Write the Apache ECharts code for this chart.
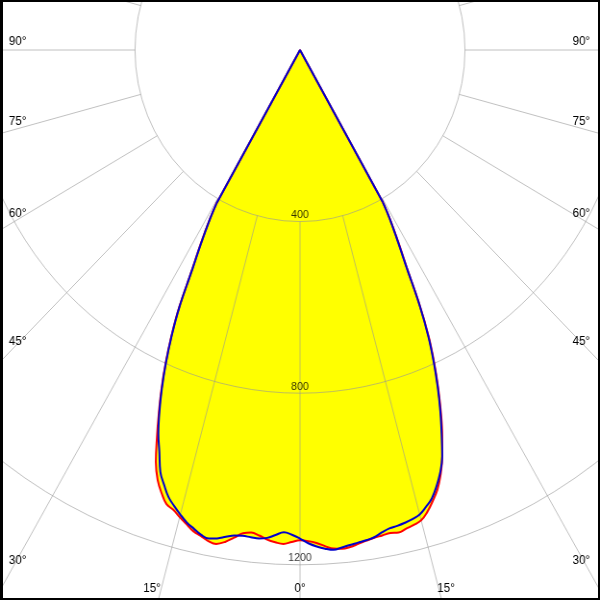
<!DOCTYPE html>
<html><head><meta charset="utf-8">
<script src="https://cdn.jsdelivr.net/npm/echarts@6/dist/echarts.min.js"></script>
<style>
html,body{margin:0;padding:0;background:#fff;overflow:hidden;}
#wrap{position:relative;width:600px;height:600px;overflow:hidden;background:#fff;}
#chart{position:absolute;left:0;top:0;width:624px;height:600px;transform:scaleX(0.9615);transform-origin:0 0;}
#frame{position:absolute;left:0;top:0;width:600px;height:600px;box-sizing:border-box;border:2px solid #000;border-left-width:3px;pointer-events:none;}
</style></head>
<body><div id="wrap"><div id="chart"></div><div id="frame"></div></div>
<script>
// gamma angles (deg from nadir) at which intensities were read
const angles = [0,1,2,3,4,5,6,7,8,9,10,11,12,13,14,15,16,17,18,19,20,21,22,23,24,25,26,27,28,29,29.5,30];
// red curve (C0-C180 plane), left half and right half, cd
const redLeft  = [1143,1147,1152,1149,1144,1136,1131,1135,1148,1161,1169,1166,1158,1151,1139,1127,1115,1107,1086,1060,1022,968,914,860,802,740,670,580,515,452,414,0];
const redRight = [1143,1145,1150,1158,1165,1167,1165,1160,1155,1151,1149,1147,1150,1145,1141,1135,1120,1100,1078,1047,1008,962,912,858,801,739,662,572,508,448,410,0];
// blue curve (C90-C270 plane)
const blueLeft  = [1139,1130,1125,1132,1140,1143,1142,1141,1143,1149,1156,1160,1155,1145,1135,1121,1106,1090,1066,1040,997,958,910,857,800,738,668,578,512,450,412,0];
const blueRight = [1139,1150,1158,1164,1168,1164,1160,1157,1154,1150,1142,1136,1134,1131,1127,1121,1108,1093,1070,1043,1008,958,908,855,798,736,660,570,505,446,408,0];
// rings and labels
const ringValues = [400, 800, 1200];
const sideAngleLabels = ['90°','75°','60°','45°','30°'];
const bottomAngleLabels = ['15°','0°','15°'];

const K = 0.9615;            // horizontal squeeze of the diagram
const CX = 312, CY = 50;      // pole (container coords)
const RMAX = 2000;
const PX_PER_CD = 171.6 / 400;
const ROUT = RMAX * PX_PER_CD;

// smooth main arc: all non-zero readings, left side then right side
function arc(left, right) {
  const d = [];
  for (let i = angles.length - 1; i >= 0; i--) if (left[i] > 0) d.push([left[i], angles[i]]);
  for (let i = 1; i < angles.length; i++) if (right[i] > 0) d.push([right[i], -angles[i]]);
  return d;
}
// straight cut-off edges running into the pole
function apex(left, right) {
  let li = -1, ri = -1;
  for (let i = 0; i < angles.length; i++) { if (left[i] > 0) li = i; if (right[i] > 0) ri = i; }
  return [[left[li], angles[li]], [0, 0], [right[ri], -angles[ri]]];
}
const redArc = arc(redLeft, redRight), redApex = apex(redLeft, redRight);
const blueArc = arc(blueLeft, blueRight), blueApex = apex(blueLeft, blueRight);

const gridColor = 'rgba(150,150,150,0.6)';
const angleAxisBase = {min: -180, max: 180, startAngle: 90, clockwise: true, interval: 15,
  axisLine: {show: false}, axisTick: {show: false}, axisLabel: {show: false}};

// label layout (screen px)
const sideY = [42, 122, 214, 342, 561];
const bottomX = [152, 300, 446];
const graphics = [];
const font = '12px "Liberation Sans", Arial, sans-serif';
sideAngleLabels.forEach((t, i) => {
  graphics.push({type: 'text', x: 9 / K, y: sideY[i], style: {text: t, font: font, fill: '#000', textAlign: 'left', textVerticalAlign: 'middle'}, z: 10});
  graphics.push({type: 'text', x: 590 / K, y: sideY[i], style: {text: t, font: font, fill: '#000', textAlign: 'right', textVerticalAlign: 'middle'}, z: 10});
});
bottomAngleLabels.forEach((t, i) => {
  graphics.push({type: 'text', x: bottomX[i] / K, y: 589, style: {text: t, font: font, fill: '#000', textAlign: 'center', textVerticalAlign: 'middle'}, z: 10});
});

const SM = 0.4;
function fill(data) {
  return {type: 'line', coordinateSystem: 'polar', polarIndex: 0, data: data, smooth: SM, showSymbol: false, symbol: 'none',
    lineStyle: {width: 0, opacity: 0}, areaStyle: {color: '#ffff00', opacity: 1}, z: 1, silent: true};
}
function stroke(data, color, smooth, z) {
  return {type: 'line', coordinateSystem: 'polar', polarIndex: 0, data: data, smooth: smooth, showSymbol: false, symbol: 'none',
    lineStyle: {width: 2, color: color}, z: z, silent: true};
}

const chart = echarts.init(document.getElementById('chart'), null, {renderer: 'canvas'});
chart.setOption({
  animation: false,
  backgroundColor: 'transparent',
  polar: [
    {center: [CX, CY], radius: [0, ROUT]},
    {center: [CX, CY], radius: [400 * PX_PER_CD, ROUT]}
  ],
  angleAxis: [
    Object.assign({polarIndex: 0, z: 3, splitLine: {show: false}}, angleAxisBase),
    Object.assign({polarIndex: 1, z: 3, splitLine: {show: true, lineStyle: {color: gridColor, width: 1}}}, angleAxisBase)
  ],
  radiusAxis: [
    {polarIndex: 0, min: 0, max: RMAX, interval: 400, z: 3,
     axisLine: {show: false}, axisTick: {show: false}, axisLabel: {show: false},
     splitLine: {show: true, lineStyle: {color: gridColor, width: 1}}},
    {polarIndex: 1, min: 400, max: RMAX, z: 3,
     axisLine: {show: false}, axisTick: {show: false}, axisLabel: {show: false}, splitLine: {show: false}}
  ],
  series: [
    fill(redArc),
    fill(blueArc),
    stroke(redArc, '#ff0000', SM, 5),
    stroke(redApex, '#ff0000', false, 5),
    stroke(blueArc, '#0000cc', SM, 6),
    stroke(blueApex, '#0000cc', false, 6),
    {type: 'scatter', coordinateSystem: 'polar', polarIndex: 0, data: ringValues.map(v => [v, 0]),
     symbolSize: 0, z: 7, silent: true,
     label: {show: true, position: 'top', distance: 1, color: '#000', fontSize: 11,
       fontFamily: '"Liberation Sans", Arial, sans-serif', formatter: p => String(p.value[0])}}
  ],
  graphic: graphics
});
</script>
</body></html>
